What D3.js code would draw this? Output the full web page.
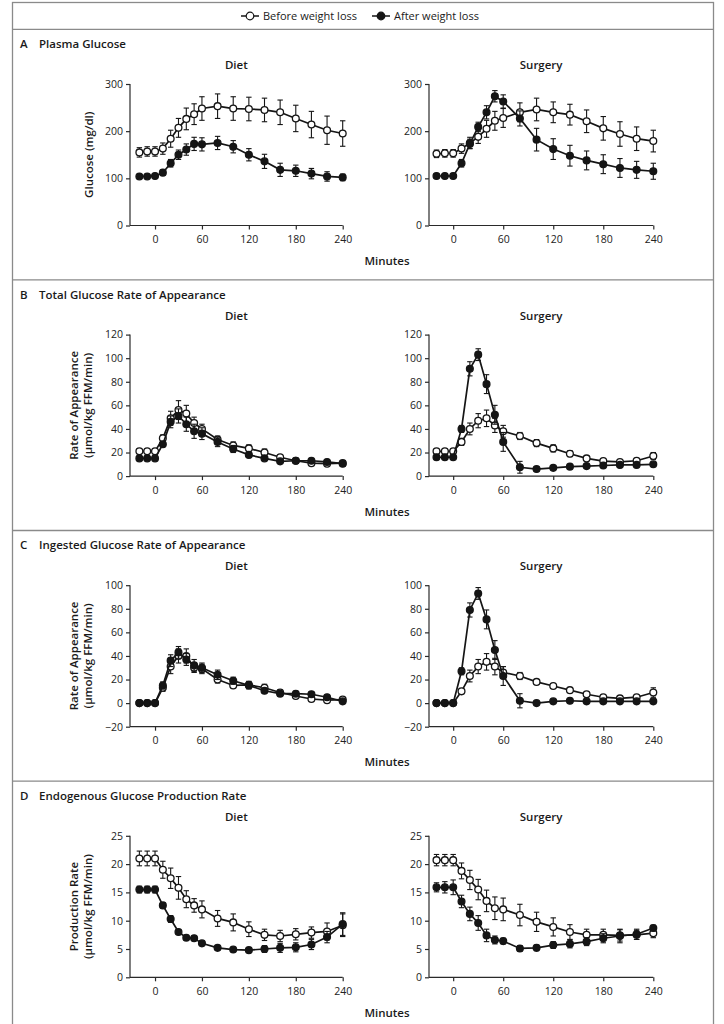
<!doctype html>
<html>
<head>
  <title>Glucose kinetics before and after weight loss</title>
  <script src="https://d3js.org/d3.v7.min.js"></script>
  <style>
    body { margin: 0; background: #fff; }
    text { font-family: 'Open Sans', sans-serif; fill: #1a1a1a; }
    .tick text { font-size: 10.5px; fill: #222; }
    .head { font-size: 11.5px; font-weight: 600; }
    .sub { font-size: 11.5px; font-weight: 600; }
    .legend { font-size: 11px; }
  </style>
</head>
<body>
<script>
// sampling times (minutes)
const minutes = [-20, -10, 0, 10, 20, 30, 40, 50, 60, 80, 100, 120, 140, 160, 180, 200, 220, 240];

// A  plasma glucose (mg/dl)
const glucoseDietBefore     = [155, 157, 157, 163, 184, 207, 226, 236, 248, 253, 248, 247, 245, 240, 227, 214, 202, 195];
const glucoseDietBeforeErr  = [10, 10, 10, 12, 18, 20, 23, 22, 25, 26, 25, 25, 25, 26, 28, 28, 30, 27];
const glucoseDietAfter      = [104, 104, 105, 112, 132, 150, 161, 173, 172, 175, 167, 150, 136, 118, 116, 110, 104, 102];
const glucoseDietAfterErr   = [4, 4, 4, 6, 8, 10, 12, 14, 14, 14, 13, 13, 15, 14, 12, 11, 10, 7];
const glucoseSurgBefore     = [152, 153, 153, 163, 175, 188, 205, 222, 228, 240, 246, 240, 235, 221, 206, 194, 184, 179];
const glucoseSurgBeforeErr  = [8, 8, 8, 10, 12, 14, 18, 20, 20, 20, 24, 22, 22, 24, 25, 26, 25, 23];
const glucoseSurgAfter      = [105, 105, 105, 132, 173, 209, 240, 274, 263, 227, 182, 162, 148, 138, 130, 122, 118, 115];
const glucoseSurgAfterErr   = [4, 4, 4, 8, 10, 10, 14, 12, 14, 16, 24, 22, 22, 20, 20, 20, 18, 17];

// B  total glucose rate of appearance
const totalDietBefore       = [21, 21, 21, 32, 49, 56, 53, 45, 40, 31, 26, 23.5, 20, 16, 13, 11, 10.5, 11];
const totalDietBeforeErr    = [2, 2, 2, 3, 6, 8, 7, 5, 4, 3, 3, 3, 3, 2, 2, 1.5, 1.5, 2];
const totalDietAfter        = [15, 15, 15, 27, 46, 51, 44, 38, 36, 29, 23, 18, 15, 12.5, 13, 13, 12, 10.5];
const totalDietAfterErr     = [1.5, 1.5, 1.5, 2, 5, 6, 6, 6, 5, 4, 3, 2, 1.5, 1.5, 1.5, 1.5, 1.5, 2];
const totalSurgBefore       = [21, 21, 21, 29, 40, 47, 49, 43, 38, 34, 28, 23.5, 19, 15, 12.7, 12, 13, 17];
const totalSurgBeforeErr    = [2, 2, 2, 3, 5, 6, 7, 6, 5, 3, 3, 3, 2.5, 2, 1.5, 1.5, 2, 3];
const totalSurgAfter        = [16, 16, 16, 40, 91, 103, 78, 52, 29, 7.5, 6, 7, 8, 8.5, 9, 9.5, 9.5, 10];
const totalSurgAfterErr     = [1.5, 1.5, 1.5, 3, 6, 5, 8, 8, 8, 5, 2, 1.5, 1.5, 1.5, 1.5, 1.5, 1.5, 1.5];

// C  ingested glucose rate of appearance
const ingestDietBefore      = [0, 0, 0, 13, 31, 40, 40, 30, 29, 20, 15, 15.5, 13, 9, 6, 3.5, 2.5, 3];
const ingestDietBeforeErr   = [0, 0, 0, 3, 6, 6, 6, 4, 4, 3, 2, 3, 3, 2.5, 1.5, 1.5, 1.5, 1.5];
const ingestDietAfter       = [0, 0, 0, 15, 36, 43, 37, 32, 30, 24, 19, 15, 10.5, 8, 8, 7.5, 5, 1.5];
const ingestDietAfterErr    = [0, 0, 0, 3, 5, 5, 5, 5, 4, 4, 3, 3, 2, 2, 2, 2, 1.5, 1.5];
const ingestSurgBefore      = [0, 0, 0, 10, 23, 31, 35, 31, 26, 23, 18, 14.5, 11, 7.5, 5, 4, 5, 9];
const ingestSurgBeforeErr   = [0, 0, 0, 2, 5, 6, 7, 7, 5, 3, 2, 2, 2, 2, 1.5, 1.5, 1.5, 4];
const ingestSurgAfter       = [0, 0, 0, 27, 79, 93, 71, 45, 23, 2, 0, 1.5, 2, 1.5, 1.5, 1.5, 1.5, 1.5];
const ingestSurgAfterErr    = [0, 0, 0, 3, 6, 5, 8, 8, 8, 6, 1.5, 1.5, 1.5, 1.5, 1.5, 1.5, 1.5, 1.5];

// D  endogenous glucose production rate
const egpDietBefore         = [21, 21, 21, 19, 17.5, 15.8, 13.8, 12.7, 12, 10.4, 9.7, 8.5, 7.5, 7.3, 7.6, 7.9, 8.1, 9.2];
const egpDietBeforeErr      = [1.3, 1.3, 1.3, 1.5, 1.8, 2, 1.5, 1.2, 1.5, 1.4, 1.5, 1.3, 1, 1, 1, 1, 1.5, 2];
const egpDietAfter          = [15.5, 15.5, 15.5, 12.7, 10.3, 8, 7, 6.9, 6, 5.2, 4.9, 4.8, 5, 5.2, 5.3, 5.8, 7.1, 9.4];
const egpDietAfterErr       = [0.6, 0.6, 0.6, 0.5, 0.6, 0.4, 0.4, 0.4, 0.4, 0.4, 0.4, 0.4, 0.6, 0.8, 0.8, 0.9, 1, 2];
const egpSurgBefore         = [20.7, 20.7, 20.7, 18.8, 17.2, 15.5, 13.5, 12.2, 12, 11, 9.8, 8.9, 8, 7.5, 7.5, 7.4, 7.5, 7.8];
const egpSurgBeforeErr      = [1, 1, 1, 1.4, 1.7, 1.8, 1.9, 2, 2, 1.9, 1.7, 1.6, 1.3, 1, 1, 1, 0.8, 0.8];
const egpSurgAfter          = [15.9, 15.9, 15.9, 13.4, 11.2, 9.6, 7.4, 6.6, 6.4, 5.1, 5.2, 5.7, 5.9, 6.3, 6.9, 7.3, 7.6, 8.7];
const egpSurgAfterErr       = [0.8, 1, 1.3, 1.1, 1.2, 1.3, 1.1, 0.7, 0.5, 0.5, 0.5, 0.6, 0.7, 0.7, 0.8, 1.2, 0.9, 0.5];

const xTicks = [0, 60, 120, 180, 240];
const panelLetters = ["A", "B", "C", "D"];
const panelTitles = ["Plasma Glucose", "Total Glucose Rate of Appearance",
                     "Ingested Glucose Rate of Appearance", "Endogenous Glucose Production Rate"];
const yLabels = [["Glucose (mg/dl)"],
                 ["Rate of Appearance", "(\u03bcmol/kg FFM/min)"],
                 ["Rate of Appearance", "(\u03bcmol/kg FFM/min)"],
                 ["Production Rate", "(\u03bcmol/kg FFM/min)"]];
const yDomains = [[0, 300], [0, 120], [-20, 100], [0, 25]];
const yTicks = [[0, 100, 200, 300], [0, 20, 40, 60, 80, 100, 120],
                [-20, 0, 20, 40, 60, 80, 100], [0, 5, 10, 15, 20, 25]];
const legendLabels = ["Before weight loss", "After weight loss"];

const panelData = [
  [[glucoseDietBefore, glucoseDietBeforeErr, glucoseDietAfter, glucoseDietAfterErr],
   [glucoseSurgBefore, glucoseSurgBeforeErr, glucoseSurgAfter, glucoseSurgAfterErr]],
  [[totalDietBefore, totalDietBeforeErr, totalDietAfter, totalDietAfterErr],
   [totalSurgBefore, totalSurgBeforeErr, totalSurgAfter, totalSurgAfterErr]],
  [[ingestDietBefore, ingestDietBeforeErr, ingestDietAfter, ingestDietAfterErr],
   [ingestSurgBefore, ingestSurgBeforeErr, ingestSurgAfter, ingestSurgAfterErr]],
  [[egpDietBefore, egpDietBeforeErr, egpDietAfter, egpDietAfterErr],
   [egpSurgBefore, egpSurgBeforeErr, egpSurgAfter, egpSurgAfterErr]]
];

var svg = d3.select("body").append("svg").attr("width", 724).attr("height", 1024);
var ink = "#151515";
var frame = "#8a8a8a";
var fmt = d => d < 0 ? "\u2212" + Math.abs(d) : String(d);

// frame
svg.append("rect").attr("x", 12.5).attr("y", 2.5).attr("width", 701).attr("height", 1040)
  .attr("fill", "none").attr("stroke", frame).attr("stroke-width", 1.3);

// legend
var legend = svg.append("g").attr("transform", "translate(241,16)");
legendLabels.forEach(function(lab, i) {
  var g = legend.append("g").attr("transform", "translate(" + (i * 131) + ",0)");
  g.append("line").attr("x1", 0).attr("x2", 18).attr("stroke", ink).attr("stroke-width", 1.5);
  g.append("circle").attr("cx", 9).attr("r", 3.8).attr("fill", i == 0 ? "#fff" : ink)
    .attr("stroke", ink).attr("stroke-width", 1.2);
  g.append("text").attr("class", "legend").attr("x", 22).attr("dy", "0.35em").text(lab);
});

var panelStep = 250.6;
var columns = [
  {name: "Diet", range: [130, 342.7], domain: [-32, 240]},
  {name: "Surgery", range: [429, 653.3], domain: [-29, 240]}
];

function drawSeries(g, x, y, vals, errs, filled) {
  var pts = minutes.map((m, i) => ({m: m, v: vals[i], e: errs[i]}));
  var bars = g.append("g").selectAll("g").data(pts.filter(d => d.e > 0)).enter().append("g")
    .attr("stroke", ink).attr("stroke-width", 1.1);
  bars.append("line").attr("x1", d => x(d.m)).attr("x2", d => x(d.m))
    .attr("y1", d => y(d.v - d.e)).attr("y2", d => y(d.v + d.e));
  bars.append("line").attr("x1", d => x(d.m) - 2.7).attr("x2", d => x(d.m) + 2.7)
    .attr("y1", d => y(d.v - d.e)).attr("y2", d => y(d.v - d.e));
  bars.append("line").attr("x1", d => x(d.m) - 2.7).attr("x2", d => x(d.m) + 2.7)
    .attr("y1", d => y(d.v + d.e)).attr("y2", d => y(d.v + d.e));

  g.append("path").datum(pts).attr("fill", "none").attr("stroke", ink).attr("stroke-width", 1.7)
    .attr("d", d3.line().x(d => x(d.m)).y(d => y(d.v)));

  g.append("g").selectAll("circle").data(pts).enter().append("circle")
    .attr("cx", d => x(d.m)).attr("cy", d => y(d.v)).attr("r", 3.4)
    .attr("fill", filled ? ink : "#fff").attr("stroke", ink).attr("stroke-width", 1.3);
}

panelLetters.forEach(function(letter, p) {
  var off = p * panelStep;
  var top = 84 + off, bottom = 225.5 + off;

  svg.append("line").attr("x1", 12.5).attr("x2", 713.5)
    .attr("y1", 29.3 + off).attr("y2", 29.3 + off).attr("stroke", frame).attr("stroke-width", 1.3);
  svg.append("text").attr("class", "head").attr("x", 20).attr("y", 48 + off).text(letter);
  svg.append("text").attr("class", "head").attr("x", 39).attr("y", 48 + off).text(panelTitles[p]);

  // y-axis title
  var lines = yLabels[p];
  var ymid = (top + bottom) / 2;
  lines.forEach(function(t, k) {
    var xc = lines.length == 1 ? 88 : (k == 0 ? 73 : 87);
    svg.append("text").attr("class", "sub").attr("text-anchor", "middle")
      .attr("dominant-baseline", "central")
      .attr("transform", "translate(" + xc + "," + ymid + ") rotate(-90)").text(t);
  });

  svg.append("text").attr("class", "sub").attr("text-anchor", "middle")
    .attr("x", 387).attr("y", bottom + 39.5).text("Minutes");

  columns.forEach(function(col, c) {
    var x = d3.scaleLinear().domain(col.domain).range(col.range);
    var y = d3.scaleLinear().domain(yDomains[p]).range([bottom, top]);

    svg.append("text").attr("class", "sub").attr("text-anchor", "middle")
      .attr("x", (col.range[0] + col.range[1]) / 2).attr("y", top - 15).text(col.name);

    var xa = svg.append("g").attr("transform", "translate(0," + bottom + ")")
      .call(d3.axisBottom(x).tickValues(xTicks).tickSize(4).tickPadding(6).tickFormat(fmt));
    var ya = svg.append("g").attr("transform", "translate(" + col.range[0] + ",0)")
      .call(d3.axisLeft(y).tickValues(yTicks[p]).tickSize(4).tickPadding(3).tickFormat(fmt));
    [xa, ya].forEach(function(a) {
      a.select(".domain").attr("stroke", "#2a2a2a").attr("stroke-width", 1.2);
      a.selectAll(".tick line").attr("stroke", "#2a2a2a").attr("stroke-width", 1.2);
    });
    // x axis line stops at the y axis (no outer tick)
    xa.select(".domain").attr("d", "M" + col.range[0] + ",0H" + col.range[1]);
    ya.select(".domain").attr("d", "M0," + bottom + "V" + top);

    var d = panelData[p][c];
    var plot = svg.append("g");
    drawSeries(plot, x, y, d[0], d[1], false);
    drawSeries(plot, x, y, d[2], d[3], true);
  });
});
</script>
</body>
</html>
